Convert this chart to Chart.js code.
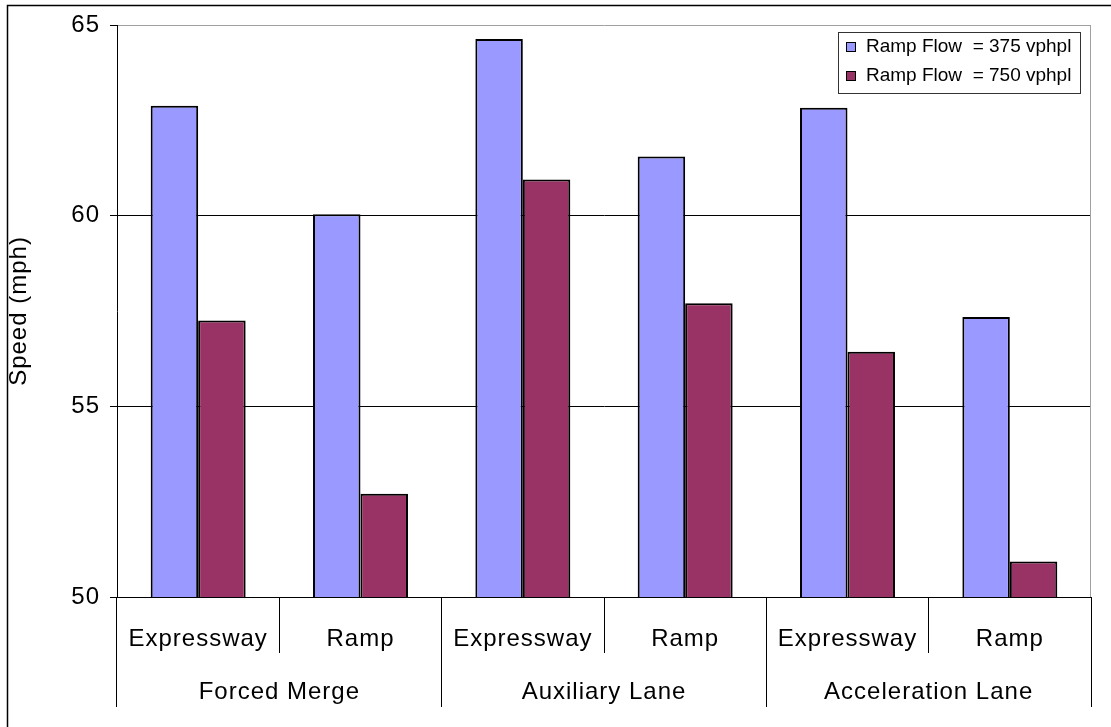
<!DOCTYPE html>
<html><head><meta charset="utf-8">
<script src="https://cdn.jsdelivr.net/npm/chart.js@4/dist/chart.umd.min.js"></script>
<style>html,body{margin:0;padding:0;background:#fff;} #wrap{width:1111px;height:727px;position:relative;}</style>
</head><body><div id="wrap"><canvas id="c" width="1111" height="727"></canvas></div>
<script>
const categories = ['Expressway','Ramp','Expressway','Ramp','Expressway','Ramp'];
const groups = ['Forced Merge','Auxiliary Lane','Acceleration Lane'];
const seriesNames = ['Ramp Flow  = 375 vphpl','Ramp Flow  = 750 vphpl'];
const flow375 = [62.88, 60.04, 64.63, 61.55, 62.83, 57.34];
const flow750 = [57.25, 52.71, 60.95, 57.70, 56.43, 50.93];
const yMin = 50, yMax = 65, yStep = 5;
const yTitle = 'Speed (mph)';
const colors = ['#9999FF', '#993366'];

const FONT = 'Liberation Sans, Arial, sans-serif';

const framePlugin = {
  id: 'frame',
  beforeDraw(chart) {
    const ctx = chart.ctx;
    ctx.save();
    ctx.fillStyle = '#fff';
    ctx.fillRect(0, 0, chart.width, chart.height);
    ctx.strokeStyle = '#000';
    ctx.lineWidth = 1.5;
    ctx.beginPath();
    ctx.moveTo(7.5, chart.height + 5);
    ctx.lineTo(7.5, 5.5);
    ctx.lineTo(chart.width + 5, 5.5);
    ctx.stroke();
    ctx.restore();
    ctx.letterSpacing = '1px';
  },
  afterDraw(chart) {
    const ctx = chart.ctx;
    const a = chart.chartArea;
    ctx.save();
    ctx.strokeStyle = '#a0a0a0';
    ctx.lineWidth = 1;
    ctx.beginPath();
    ctx.moveTo(Math.round(a.right) - 0.5, a.top);
    ctx.lineTo(Math.round(a.right) - 0.5, a.bottom);
    ctx.stroke();
    // legend box
    ctx.letterSpacing = '0px';
    ctx.strokeStyle = '#333';
    ctx.lineWidth = 1;
    ctx.fillStyle = '#fff';
    ctx.fillRect(838.5, 32.5, 242, 61);
    ctx.strokeRect(838.5, 32.5, 242, 61);
    ctx.font = '19px ' + FONT;
    ctx.textBaseline = 'middle';
    ctx.textAlign = 'left';
    chart.data.datasets.forEach((ds, i) => {
      const cy = 47 + i * 29;
      ctx.fillStyle = ds.backgroundColor;
      ctx.fillRect(846.5, cy - 4.5, 9, 9);
      ctx.strokeStyle = '#000';
      ctx.strokeRect(846.5, cy - 4.5, 9, 9);
      ctx.fillStyle = '#000';
      ctx.fillText(ds.label, 866, cy);
    });
    ctx.restore();
  }
};

new Chart(document.getElementById('c'), {
  type: 'bar',
  data: {
    labels: categories,
    datasets: [
      { label: seriesNames[0], data: flow375, backgroundColor: colors[0], borderColor: '#000', borderWidth: 2 },
      { label: seriesNames[1], data: flow750, backgroundColor: colors[1], borderColor: '#000', borderWidth: 2 }
    ]
  },
  options: {
    responsive: false,
    animation: false,
    devicePixelRatio: 1,
    datasets: { bar: { barPercentage: 1.0, categoryPercentage: 0.585 } },
    layout: { padding: { left: 5, top: 25, right: 20, bottom: 20 } },
    plugins: { legend: { display: false }, tooltip: { enabled: false } },
    scales: {
      x: {
        type: 'category', position: 'bottom', weight: 0,
        grid: { offset: true, drawOnChartArea: false, drawTicks: true, tickLength: 56, color: '#000', lineWidth: 1 },
        border: { display: true, color: '#000', width: 1 },
        ticks: { font: { family: FONT, size: 24 }, color: '#000', padding: -28, maxRotation: 0, minRotation: 0, autoSkip: false },
        afterFit: s => { s.height = 56; }
      },
      x2: {
        type: 'category', position: 'bottom', weight: 1, labels: groups, offset: true,
        grid: { offset: true, drawOnChartArea: false, drawTicks: true, tickLength: 54, color: '#000', lineWidth: 1 },
        border: { display: false },
        ticks: { font: { family: FONT, size: 24 }, color: '#000', padding: -29, maxRotation: 0, minRotation: 0, autoSkip: false },
        afterFit: s => { s.height = 54; }
      },
      y: {
        min: yMin, max: yMax,
        ticks: { stepSize: yStep, font: { family: FONT, size: 24 }, color: '#000', padding: 10 },
        grid: { color: c => (c.tick && c.tick.value === yMax) ? '#a0a0a0' : '#000', tickColor: '#000', tickLength: 7, lineWidth: 1 },
        border: { display: true, color: '#000', width: 1 },
        title: { display: true, text: yTitle, font: { family: FONT, size: 24 }, color: '#000', padding: 0 },
        afterFit: s => { s.width = 112; }
      }
    }
  },
  plugins: [framePlugin]
});
</script></body></html>
